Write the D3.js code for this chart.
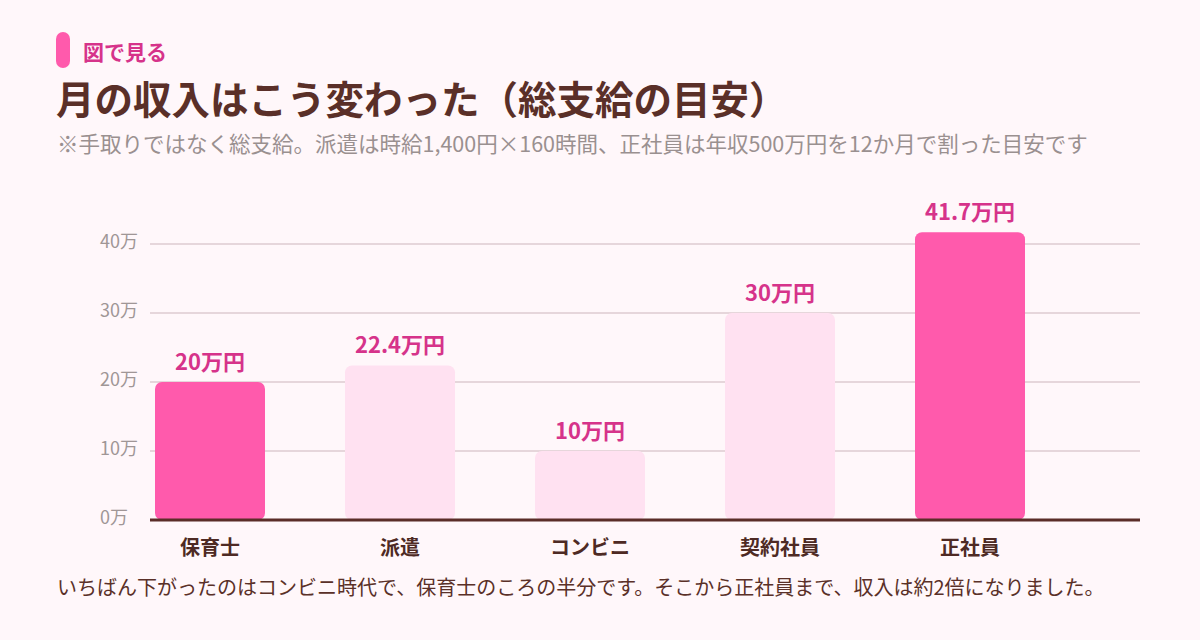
<!DOCTYPE html>
<html>
<head>
<meta charset="utf-8">
<script src="https://cdn.jsdelivr.net/npm/d3@7"></script>
<style>
  html, body { margin: 0; padding: 0; background: #fff7fa; }
  svg { display: block; font-family: "Noto Sans CJK JP", "Noto Sans", sans-serif; }
</style>
</head>
<body>
<div id="chart"></div>
<script>
// data
const categories = ["保育士", "派遣", "コンビニ", "契約社員", "正社員"];
const values = [20, 22.4, 10, 30, 41.7];
const valueLabels = ["20万円", "22.4万円", "10万円", "30万円", "41.7万円"];
const highlighted = [true, false, false, false, true];
const yTicks = [0, 10, 20, 30, 40];
const yTickLabels = ["0万", "10万", "20万", "30万", "40万"];

const W = 1200, H = 640;
const margin = {top: 244, right: 60, bottom: 120, left: 150};

const svg = d3.select("#chart").append("svg")
    .attr("width", W)
    .attr("height", H);

svg.append("rect").attr("width", W).attr("height", H).attr("fill", "#fff7fa");

// header
svg.append("rect")
    .attr("x", 56).attr("y", 32).attr("width", 14).attr("height", 36)
    .attr("rx", 7).attr("fill", "#ff5aac");
svg.append("text")
    .attr("x", 83).attr("y", 60)
    .attr("font-size", 21).attr("font-weight", 700).attr("fill", "#d6338a")
    .text("図で見る");
svg.append("text")
    .attr("x", 56).attr("y", 114)
    .attr("font-size", 38.5).attr("font-weight", 700).attr("fill", "#5a2f28")
    .text("月の収入はこう変わった（総支給の目安）");
svg.append("text")
    .attr("x", 57).attr("y", 152)
    .attr("font-size", 21.5).attr("fill", "#9a9090")
    .text("※手取りではなく総支給。派遣は時給1,400円×160時間、正社員は年収500万円を12か月で割った目安です");

// scales
const plotLeft = margin.left, plotRight = W - margin.right;
const y0 = 520;

const x = d3.scaleBand()
    .domain(categories)
    .range([plotLeft, 1030])
    .paddingInner(80 / 190)
    .paddingOuter(5 / 190);

const y = d3.scaleLinear()
    .domain([0, 40])
    .range([y0, margin.top]);

// gridlines
svg.append("g")
  .selectAll("line")
  .data(yTicks.slice(1))
  .enter().append("line")
    .attr("x1", plotLeft).attr("x2", plotRight)
    .attr("y1", d => y(d)).attr("y2", d => y(d))
    .attr("stroke", "#e6d6db").attr("stroke-width", 2);

// y labels
svg.append("g")
  .selectAll("text")
  .data(yTicks)
  .enter().append("text")
    .attr("x", 100)
    .attr("y", d => y(d) + 4)
    .attr("font-size", 18).attr("fill", "#a09696")
    .text((d, i) => yTickLabels[i]);

// bars
svg.append("g")
  .selectAll("rect")
  .data(values)
  .enter().append("rect")
    .attr("x", (d, i) => x(categories[i]))
    .attr("y", d => y(d))
    .attr("width", x.bandwidth())
    .attr("height", d => y0 - y(d))
    .attr("rx", 7)
    .attr("fill", (d, i) => highlighted[i] ? "#ff5aac" : "#ffe1f1");

// value labels
svg.append("g")
  .selectAll("text")
  .data(values)
  .enter().append("text")
    .attr("x", (d, i) => x(categories[i]) + x.bandwidth() / 2)
    .attr("y", d => y(d) - 12)
    .attr("text-anchor", "middle")
    .attr("font-size", 22).attr("font-weight", 700).attr("fill", "#d6338a")
    .text((d, i) => valueLabels[i]);

// baseline
svg.append("line")
    .attr("x1", plotLeft).attr("x2", plotRight)
    .attr("y1", y0).attr("y2", y0)
    .attr("stroke", "#5a2d28").attr("stroke-width", 3);

// category labels
svg.append("g")
  .selectAll("text")
  .data(categories)
  .enter().append("text")
    .attr("x", d => x(d) + x.bandwidth() / 2)
    .attr("y", 555)
    .attr("text-anchor", "middle")
    .attr("font-size", 20).attr("font-weight", 700).attr("fill", "#4e2a24")
    .text(d => d);

// footnote
svg.append("text")
    .attr("x", 57).attr("y", 595)
    .attr("font-size", 20).attr("fill", "#5a3028")
    .text("いちばん下がったのはコンビニ時代で、保育士のころの半分です。そこから正社員まで、収入は約2倍になりました。");
</script>
</body>
</html>
